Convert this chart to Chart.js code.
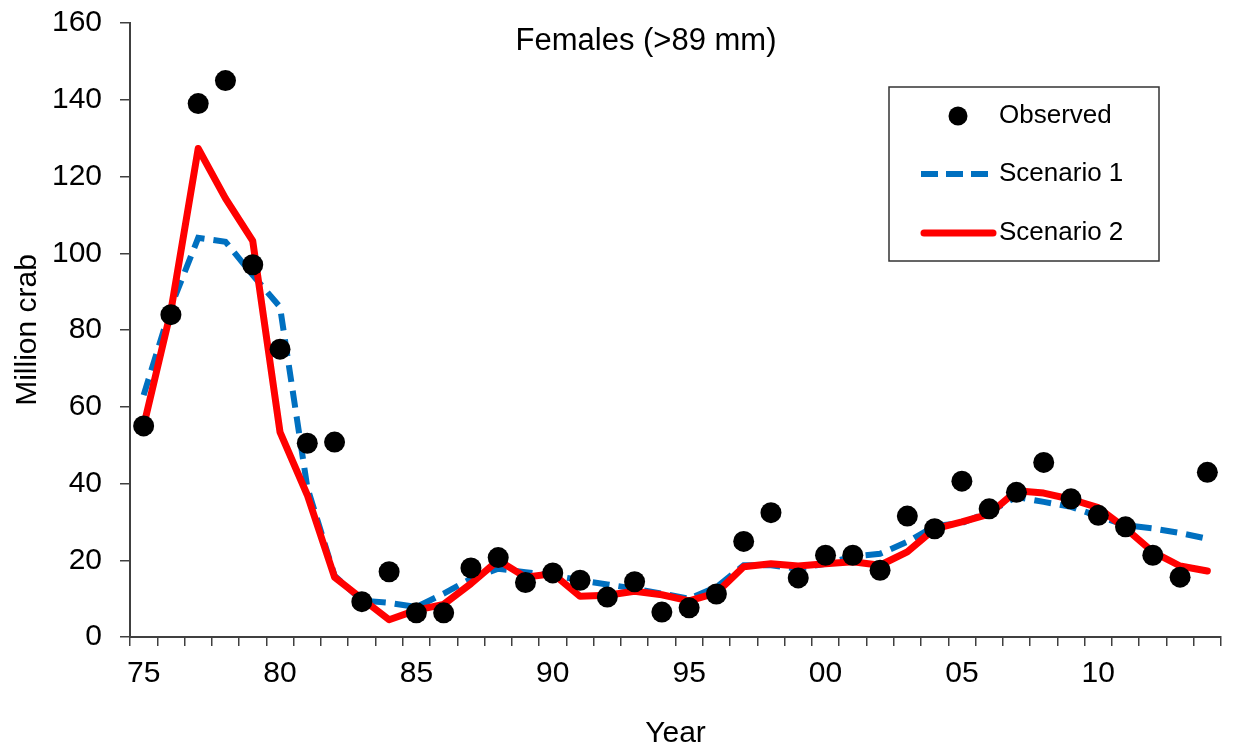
<!DOCTYPE html>
<html>
<head>
<meta charset="utf-8">
<script src="https://cdn.jsdelivr.net/npm/chart.js@4"></script>
<style>
  body { margin: 0; background: #fff; }
  canvas { display: block; }
</style>
</head>
<body>
<canvas id="chartFemales" width="1238" height="749"></canvas>
<script>
// Années (1975-2014)
const years = [1975, 1976, 1977, 1978, 1979, 1980, 1981, 1982, 1983, 1984,
    1985, 1986, 1987, 1988, 1989, 1990, 1991, 1992, 1993, 1994,
    1995, 1996, 1997, 1998, 1999, 2000, 2001, 2002, 2003, 2004,
    2005, 2006, 2007, 2008, 2009, 2010, 2011, 2012, 2013, 2014];

// Observed (million crab)
const observed = [55, 84, 139, 145, 97, 75, 50.5, 50.8, 9.2, 17,
    6.3, 6.3, 18, 20.7, 14.2, 16.7, 14.8, 10.4, 14.4, 6.5,
    7.6, 11.2, 24.9, 32.4, 15.4, 21.3, 21.3, 17.4, 31.5, 28.2,
    40.6, 33.4, 37.7, 45.5, 36, 31.7, 28.7, 21.3, 15.6, 42.9];

// Scenario 1 (tirets bleus)
const scenario1 = [63, 86, 104, 103, 94.3, 86, 39, 16, 9.5, 8.9,
    7.8, 11.3, 15.2, 17.8, 16.9, 16.1, 14.8, 13.7, 12.6, 11.3,
    10, 13, 18.7, 18.7, 17.8, 19.1, 21, 21.7, 24.8, 28.9,
    29.7, 32.6, 36.5, 35.2, 33.9, 31.5, 29.1, 28.3, 27.1, 25.6];

// Scenario 2 (ligne rouge)
const scenario2 = [55, 85, 127.3, 114.3, 103.2, 53.4, 37, 15.6, 10, 4.5,
    7, 8.5, 13.9, 20, 15.6, 16.5, 10.6, 10.9, 11.9, 11,
    9.4, 11.5, 18.3, 19.1, 18.5, 19.1, 19.6, 18.7, 22.2, 28.2,
    30, 32, 38.1, 37.5, 35.9, 33.7, 28.3, 22.2, 18.5, 17.2];

const yTicks = [0, 20, 40, 60, 80, 100, 120, 140, 160];

const FONT = "'Liberation Sans', Arial, sans-serif";
const AXIS_COLOR = "#404040";

// titre + légende dessinés dans la zone du graphique
const overlay = {
    id: "overlay",
    afterDraw(chart) {
        const ctx = chart.ctx;
        const area = chart.chartArea;
        ctx.save();
        ctx.fillStyle = "#000";
        ctx.font = "31px " + FONT;
        ctx.textAlign = "center";
        ctx.textBaseline = "middle";
        ctx.fillText("Females (>89 mm)", area.left + 516, area.top + 18);

        // légende
        const bx = 889, by = 87, bw = 270, bh = 174;
        ctx.strokeStyle = "#333";
        ctx.lineWidth = 1.5;
        ctx.strokeRect(bx, by, bw, bh);

        ctx.beginPath();
        ctx.arc(958, 116, 9.5, 0, Math.PI * 2);
        ctx.fill();

        ctx.lineWidth = 6;
        ctx.strokeStyle = "#0070C0";
        ctx.setLineDash([17, 8]);
        ctx.beginPath();
        ctx.moveTo(921, 174);
        ctx.lineTo(992, 174);
        ctx.stroke();

        ctx.setLineDash([]);
        ctx.lineWidth = 7;
        ctx.strokeStyle = "#FF0000";
        ctx.lineCap = "round";
        ctx.beginPath();
        ctx.moveTo(924, 233);
        ctx.lineTo(993, 233);
        ctx.stroke();

        ctx.font = "26px " + FONT;
        ctx.textAlign = "left";
        ctx.fillText("Observed", 999, 116);
        ctx.fillText("Scenario 1", 999, 174);
        ctx.fillText("Scenario 2", 999, 233);
        ctx.restore();
    }
};

new Chart(document.getElementById("chartFemales"), {
    type: "line",
    data: {
        labels: years,
        datasets: [
            {
                label: "Observed",
                data: observed,
                showLine: false,
                pointRadius: 10.5,
                pointHoverRadius: 10.5,
                pointBackgroundColor: "#000",
                pointBorderWidth: 0,
                order: 0
            },
            {
                label: "Scenario 2",
                data: scenario2,
                borderColor: "#FF0000",
                borderWidth: 7,
                pointRadius: 0,
                tension: 0,
                borderJoinStyle: "round",
                borderCapStyle: "round",
                order: 1
            },
            {
                label: "Scenario 1",
                data: scenario1,
                borderColor: "#0070C0",
                borderWidth: 6,
                borderDash: [17, 9],
                pointRadius: 0,
                tension: 0,
                order: 2
            }
        ]
    },
    options: {
        responsive: false,
        animation: false,
        layout: { padding: { left: 4, right: 17, top: 23, bottom: 0 } },
        plugins: {
            legend: { display: false },
            tooltip: { enabled: false }
        },
        scales: {
            x: {
                type: "category",
                offset: true,
                grid: {
                    offset: true,
                    drawOnChartArea: false,
                    color: AXIS_COLOR,
                    tickLength: 9,
                    lineWidth: 1.5
                },
                border: { color: AXIS_COLOR, width: 2 },
                ticks: {
                    autoSkip: false,
                    maxRotation: 0,
                    padding: 10,
                    color: "#000",
                    font: { family: FONT, size: 30 },
                    callback: function (value) {
                        const y = years[value];
                        return y % 5 === 0 ? String(y).slice(2) : "";
                    }
                },
                title: {
                    display: true,
                    text: "Year",
                    color: "#000",
                    font: { family: FONT, size: 30, lineHeight: 1 },
                    padding: { top: 0, bottom: 0 }
                },
                afterFit: (scale) => {
                    scale.height = 112;
                    scale.paddingLeft = 0;
                    scale.paddingRight = 0;
                }
            },
            y: {
                min: 0,
                max: 160,
                afterBuildTicks: (scale) => {
                    scale.ticks = yTicks.map(v => ({ value: v }));
                },
                grid: {
                    drawOnChartArea: false,
                    color: AXIS_COLOR,
                    tickLength: 10,
                    lineWidth: 1.5
                },
                border: { color: AXIS_COLOR, width: 2 },
                ticks: {
                    padding: 18,
                    color: "#000",
                    font: { family: FONT, size: 30 }
                },
                title: {
                    display: true,
                    text: "Million crab",
                    color: "#000",
                    font: { family: FONT, size: 30, lineHeight: 1.2 },
                    padding: { top: 6, bottom: 0 }
                },
                afterFit: (scale) => {
                    scale.width = 126;
                    scale.paddingTop = 0;
                    scale.paddingBottom = 0;
                }
            }
        }
    },
    plugins: [overlay]
});
</script>
</body>
</html>
